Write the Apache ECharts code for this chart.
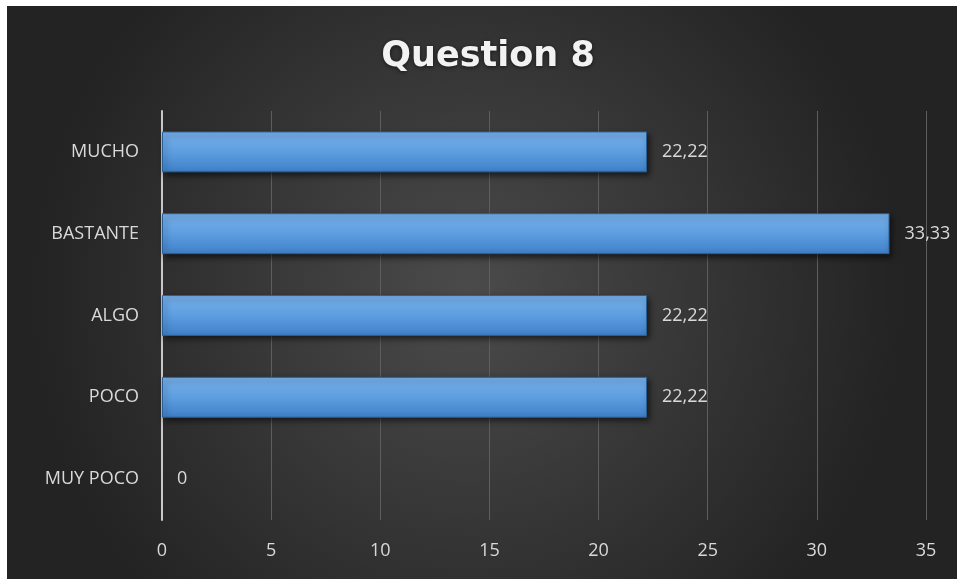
<!DOCTYPE html>
<html>
<head>
<meta charset="utf-8">
<script src="https://cdn.jsdelivr.net/npm/echarts@6/dist/echarts.min.js"></script>
<style>
  html, body { margin: 0; padding: 0; background: #ffffff; overflow: hidden; }
  #chart { position: absolute; left: 7px; top: 6px; width: 960px; height: 580px; }
</style>
</head>
<body>
<div id="chart"></div>
<script>
// Answers, listed bottom to top as the category axis draws them
const categories = ['MUY POCO', 'POCO', 'ALGO', 'BASTANTE', 'MUCHO'];
const percentages = [0, 22.22, 22.22, 33.33, 22.22];
const xTicks = [0, 5, 10, 15, 20, 25, 30, 35];

const fontFamily = '"Open Sans", sans-serif';
const chart = echarts.init(document.getElementById('chart'));

const fmt = v => (Math.round(v * 100) / 100).toString().replace('.', ',');

// an empty answer gets no visible bar, only its label
const barData = percentages.map(v => v === 0
  ? { value: v, itemStyle: { color: 'transparent', borderWidth: 0, shadowBlur: 0, shadowOffsetX: 0, shadowOffsetY: 0 } }
  : v);

chart.setOption({
  backgroundColor: {
    type: 'radial', x: 0.48, y: 0.5, r: 0.75,
    colorStops: [
      { offset: 0, color: '#4b4b4b' },
      { offset: 1, color: '#232323' }
    ]
  },
  title: {
    text: 'Question 8',
    left: 476,
    textAlign: 'center',
    top: 28,
    textStyle: {
      color: '#f2f2f2', fontSize: 35, fontWeight: 'bold', fontFamily: '"DejaVu Sans", sans-serif',
      textShadowColor: 'rgba(0,0,0,0.6)', textShadowBlur: 4, textShadowOffsetY: 1
    }
  },
  grid: { left: 155, width: 764, top: 105, height: 409 },
  xAxis: {
    type: 'value',
    min: xTicks[0],
    max: xTicks[xTicks.length - 1],
    interval: 5,
    axisLine: { show: false },
    axisTick: { show: false },
    axisLabel: { color: '#d9d9d9', fontSize: 18, fontFamily, margin: 22 },
    splitLine: { show: true, lineStyle: { color: '#5e5e5e', width: 1 } }
  },
  yAxis: {
    type: 'category',
    data: categories,
    axisLine: { show: true, lineStyle: { color: '#c8c8c8', width: 2 } },
    axisTick: { show: false },
    axisLabel: { color: '#d9d9d9', fontSize: 18, fontFamily, margin: 23 }
  },
  series: [{
    type: 'bar',
    data: barData,
    barCategoryGap: '50%',
    itemStyle: {
      color: {
        type: 'linear', x: 0, y: 0, x2: 0, y2: 1,
        colorStops: [
          { offset: 0, color: '#78b0ea' },
          { offset: 0.5, color: '#5d9ee0' },
          { offset: 1, color: '#3f80c8' }
        ]
      },
      borderColor: '#2a5f96',
      borderWidth: 1,
      shadowColor: 'rgba(0,0,0,0.6)',
      shadowBlur: 6,
      shadowOffsetX: 2,
      shadowOffsetY: 3
    },
    label: {
      show: true,
      position: 'right',
      distance: 15,
      color: '#d9d9d9',
      fontSize: 18,
      fontFamily,
      formatter: p => fmt(p.value)
    }
  }]
});
</script>
</body>
</html>
